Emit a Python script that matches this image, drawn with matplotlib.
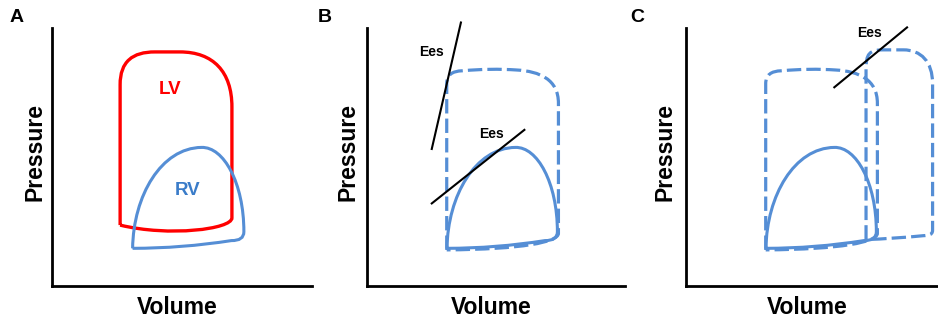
import matplotlib
matplotlib.use('Agg')
import matplotlib.pyplot as plt
from matplotlib.path import Path
from matplotlib.patches import PathPatch

plt.rcParams['font.family'] = ['Liberation Sans', 'DejaVu Sans']

RED = '#ff0000'
BLUE = '#558ed5'

M, L, C3, C4 = Path.MOVETO, Path.LINETO, Path.CURVE3, Path.CURVE4

# петли давление-объём (объём, давление), условные единицы
lv_pts = [(26.2, 23.6), (26.2, 78), (26.2, 87), (31, 90.7), (39.6, 90.7), (49.2, 90.7),
          (62, 90.7), (69.2, 83), (69.2, 69.4), (69.2, 26.4),
          (69.2, 22), (45, 19), (26.2, 23.6)]
lv_codes = [M, L, C4, C4, C4, L, C4, C4, C4, L, C4, C4, C4]

rv_pts = [(31, 14.6), (31.3, 35), (42, 53.5), (57.5, 53.7), (66, 54), (73.8, 40),
          (73.8, 21), (73.8, 17.5), (69, 17.6), (50, 14.6), (31, 14.6)]
rv_codes = [M, C4, C4, C4, C4, C4, C4, C3, C3, C3, C3]

big_pts = [(30.9, 14.0), (30.9, 78.5), (30.9, 83.3), (37, 83.4), (48, 84.4), (58, 83.7),
           (67, 83.2), (74.2, 80), (74.2, 70.8), (74.2, 20.4), (74.2, 17), (60, 14.2),
           (30.9, 14.0)]
big_codes = [M, L, C3, C3, C3, C3, C4, C4, C4, L, C4, C4, C4]

big2_pts = [(69.8, 18.0), (69.8, 84), (69.8, 90), (71, 91.5), (76.6, 91.5), (84.3, 91.5),
            (91, 91.5), (95.6, 87), (95.6, 78.4), (95.6, 21.6), (95.6, 19.8), (94, 19.6),
            (92, 19.5), (80, 18.3), (69.8, 18.0)]
big2_codes = [M, L, C4, C4, C4, L, C4, C4, C4, L, C4, C4, C4, C3, C3]

# линии Ees
ees1_v, ees1_p = [25.1, 36.4], [53.1, 102.1]
ees2_v, ees2_p = [25.1, 61.0], [32.0, 60.5]
ees3_v, ees3_p = [57.5, 85.7], [77.0, 100.2]
ees_labels_b = [(25.1, 90.6), (48.3, 58.8)]
ees_labels_c = [(71.2, 97.9)]

fig = plt.figure(figsize=(9.38, 3.21), dpi=100)

def make_ax(left, width, xmax, ylab_x):
    ax = fig.add_axes([left, 0.109, width, 0.804])
    ax.set_xlim(0, xmax)
    ax.set_ylim(0, 100)
    for s in ['top', 'right']:
        ax.spines[s].set_visible(False)
    for s in ['left', 'bottom']:
        ax.spines[s].set_linewidth(2.0)
        ax.spines[s].set_color('black')
    ax.set_xticks([])
    ax.set_yticks([])
    ax.text(ylab_x, 0.52, 'Pressure', transform=ax.transAxes, rotation=90,
            ha='center', va='center', fontsize=16.5, fontweight='bold')
    ax.text(0.48, -0.085, 'Volume', transform=ax.transAxes,
            ha='center', va='center', fontsize=16.5, fontweight='bold')
    return ax

def loop(ax, pts, codes, color, ls='-', lw=2.2):
    ax.add_patch(PathPatch(Path(pts, codes), fill=False, edgecolor=color,
                           lw=lw, linestyle=ls, clip_on=False, capstyle='butt'))

dash = (0, (4.5, 1.6))

# A
axA = make_ax(52/938, 260/938, 100, -0.065)
loop(axA, lv_pts, lv_codes, RED, lw=2.4)
loop(axA, rv_pts, rv_codes, BLUE)
axA.text(45.4, 76, 'LV', color=RED, fontsize=13.5, fontweight='bold', ha='center', va='center')
axA.text(52.2, 37, 'RV', color='#3a7cc9', fontsize=13.5, fontweight='bold', ha='center', va='center')

# B
axB = make_ax(367/938, 258/938, 100, -0.074)
loop(axB, big_pts, big_codes, BLUE, ls=dash, lw=2.3)
loop(axB, rv_pts, rv_codes, BLUE)
axB.plot(ees1_v, ees1_p, color='black', lw=1.5, clip_on=False)
axB.plot(ees2_v, ees2_p, color='black', lw=1.5, clip_on=False)
for x, y in ees_labels_b:
    axB.text(x, y, 'Ees', fontsize=10, fontweight='bold', ha='center', va='center')

# C
axC = make_ax(686/938, 252/938, 97.7, -0.083)
loop(axC, big_pts, big_codes, BLUE, ls=dash, lw=2.3)
loop(axC, big2_pts, big2_codes, BLUE, ls=dash, lw=2.3)
loop(axC, rv_pts, rv_codes, BLUE)
axC.plot(ees3_v, ees3_p, color='black', lw=1.5, clip_on=False)
for x, y in ees_labels_c:
    axC.text(x, y, 'Ees', fontsize=10, fontweight='bold', ha='center', va='center')

for lab, x in [('A', 17), ('B', 325), ('C', 637)]:
    fig.text(x/938, 1 - 17/321, lab, fontsize=14, fontweight='bold', ha='center', va='center')

fig.savefig('out.png', dpi=100)
